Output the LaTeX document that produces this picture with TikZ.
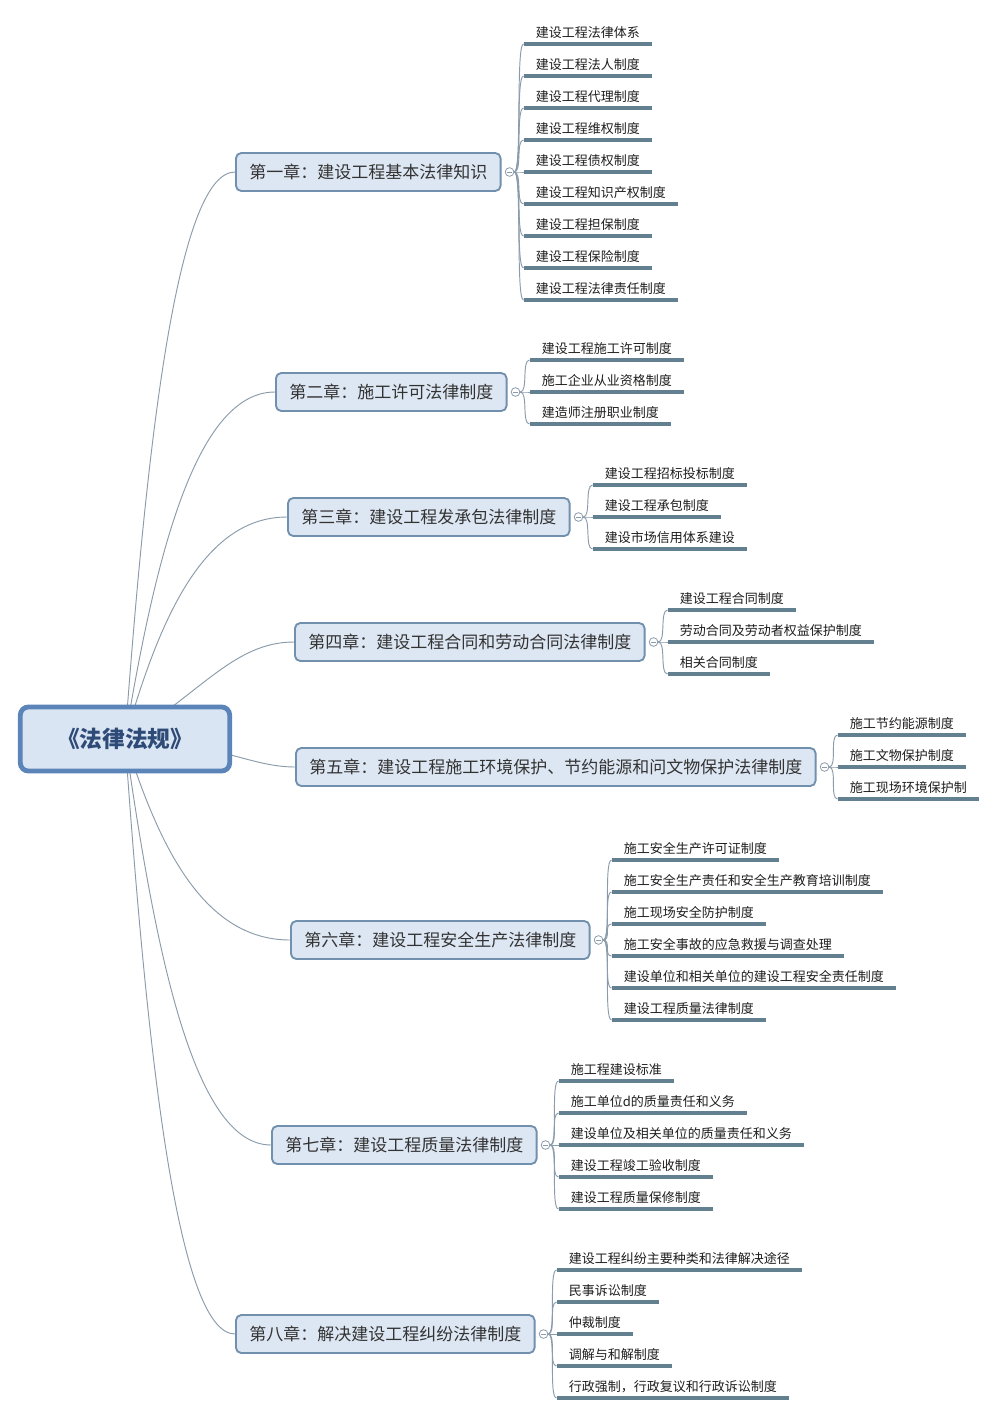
\documentclass[tikz,border=0pt]{standalone}
\usepackage{fontspec}
\setmainfont{Noto Sans CJK SC}
\usepackage{tikz}
\usetikzlibrary{calc}
\usepackage{xcolor}

\definecolor{rootfill}{HTML}{DAE5F3}
\definecolor{rootline}{HTML}{5B84B8}
\definecolor{roottext}{HTML}{2E4B78}
\definecolor{boxfill}{HTML}{DDE7F3}
\definecolor{boxline}{HTML}{7090AE}
\definecolor{chaptext}{HTML}{333333}
\definecolor{leaftext}{HTML}{1E1E1E}
\definecolor{linkcol}{HTML}{8A9BAA}
\definecolor{ulcol}{HTML}{62808F}

\pgfdeclarelayer{background}
\pgfsetlayers{background,main}

\begin{document}
\begin{tikzpicture}[
  x=0.75pt, y=-0.75pt,
  root/.style={rounded corners=6pt, draw=rootline, line width=3.6pt, fill=rootfill, minimum width=157pt, minimum height=48pt, font=\fontsize{17}{19}\selectfont\bfseries, text=roottext},
  chapter/.style={anchor=west, rounded corners=4pt, draw=boxline, line width=1.4pt, fill=boxfill, inner xsep=10pt, minimum height=28.5pt, font=\fontsize{12.75}{14}\selectfont, text=chaptext},
  marker/.style={circle, draw=linkcol, fill=white, line width=0.6pt, minimum size=6.5pt, inner sep=0pt, path picture={\draw[linkcol, line width=0.5pt] ([xshift=-2pt]path picture bounding box.center) -- ([xshift=2pt]path picture bounding box.center);}},
  uline/.style={draw=ulcol, line width=2.8pt},
  leaf/.style={anchor=south west, inner xsep=9pt, inner ysep=3pt, text height=8pt, text depth=2pt, font=\fontsize{9.75}{11}\selectfont, text=leaftext, append after command={(\tikzlastnode.south west) edge[uline] (\tikzlastnode.south east)}},
  branch/.style={draw=linkcol, line width=0.7pt}
]
  \useasboundingbox (0,0) rectangle (998,1416);

  % centre
  \node[root] (root) at (125,739) {《法律法规》};

  % chapitres
  \node[chapter] (ch1) at (235,172) {第一章：建设工程基本法律知识};
  \node[chapter] (ch2) at (275,392) {第二章：施工许可法律制度};
  \node[chapter] (ch3) at (287,517) {第三章：建设工程发承包法律制度};
  \node[chapter] (ch4) at (294,642) {第四章：建设工程合同和劳动合同法律制度};
  \node[chapter] (ch5) at (295,767) {第五章：建设工程施工环境保护、节约能源和问文物保护法律制度};
  \node[chapter] (ch6) at (290,940) {第六章：建设工程安全生产法律制度};
  \node[chapter] (ch7) at (271,1145) {第七章：建设工程质量法律制度};
  \node[chapter] (ch8) at (235,1334) {第八章：解决建设工程纠纷法律制度};

  % marqueurs
  \foreach \c in {1,...,8}
    \node[marker] (m\c) at ($(ch\c.east)+(8,0)$) {};

  % Chapitre 1
  \foreach \t [count=\i] in {建设工程法律体系, 建设工程法人制度, 建设工程代理制度, 建设工程维权制度, 建设工程债权制度, 建设工程知识产权制度, 建设工程担保制度, 建设工程保险制度, 建设工程法律责任制度} {
    \node[leaf] (c1l\i) at ($(m1)+(14,{32*(\i-5)})$) {\t};
    \draw[branch] (m1.east) .. controls +(8,0) and +(-8,0) .. (c1l\i.south west);
  }
  % Chapitre 2
  \foreach \t [count=\i] in {建设工程施工许可制度, 施工企业从业资格制度, 建造师注册职业制度} {
    \node[leaf] (c2l\i) at ($(m2)+(14,{32*(\i-2)})$) {\t};
    \draw[branch] (m2.east) .. controls +(8,0) and +(-8,0) .. (c2l\i.south west);
  }
  % Chapitre 3
  \foreach \t [count=\i] in {建设工程招标投标制度, 建设工程承包制度, 建设市场信用体系建设} {
    \node[leaf] (c3l\i) at ($(m3)+(14,{32*(\i-2)})$) {\t};
    \draw[branch] (m3.east) .. controls +(8,0) and +(-8,0) .. (c3l\i.south west);
  }
  % Chapitre 4
  \foreach \t [count=\i] in {建设工程合同制度, 劳动合同及劳动者权益保护制度, 相关合同制度} {
    \node[leaf] (c4l\i) at ($(m4)+(14,{32*(\i-2)})$) {\t};
    \draw[branch] (m4.east) .. controls +(8,0) and +(-8,0) .. (c4l\i.south west);
  }
  % Chapitre 5
  \foreach \t [count=\i] in {施工节约能源制度, 施工文物保护制度, 施工现场环境保护制} {
    \node[leaf] (c5l\i) at ($(m5)+(13,{32*(\i-2)})$) {\t};
    \draw[branch] (m5.east) .. controls +(8,0) and +(-8,0) .. (c5l\i.south west);
  }
  % Chapitre 6
  \foreach \t [count=\i] in {施工安全生产许可证制度, 施工安全生产责任和安全生产教育培训制度, 施工现场安全防护制度, 施工安全事故的应急救援与调查处理, 建设单位和相关单位的建设工程安全责任制度, 建设工程质量法律制度} {
    \node[leaf] (c6l\i) at ($(m6)+(13,{32*(\i-3.5)})$) {\t};
    \draw[branch] (m6.east) .. controls +(8,0) and +(-8,0) .. (c6l\i.south west);
  }
  % Chapitre 7
  \foreach \t [count=\i] in {施工程建设标准, 施工单位d的质量责任和义务, 建设单位及相关单位的质量责任和义务, 建设工程竣工验收制度, 建设工程质量保修制度} {
    \node[leaf] (c7l\i) at ($(m7)+(13,{32*(\i-3)})$) {\t};
    \draw[branch] (m7.east) .. controls +(8,0) and +(-8,0) .. (c7l\i.south west);
  }
  % Chapitre 8
  \foreach \t [count=\i] in {建设工程纠纷主要种类和法律解决途径, 民事诉讼制度, 仲裁制度, 调解与和解制度, 行政强制，行政复议和行政诉讼制度} {
    \node[leaf] (c8l\i) at ($(m8)+(13,{32*(\i-3)})$) {\t};
    \draw[branch] (m8.east) .. controls +(8,0) and +(-8,0) .. (c8l\i.south west);
  }

  % liens centre -> chapitres
  \begin{pgfonlayer}{background}
    \fill[white] (0,0) rectangle (998,1416);
    \draw[branch] (root.center) .. controls +(21,-284) and +(-59,0) .. (ch1.west);
    \draw[branch] (root.center) .. controls +(29,-174) and +(-81,0) .. (ch2.west);
    \draw[branch] (root.center) .. controls +(32,-111) and +(-87,0) .. (ch3.west);
    \draw[branch] (root.center) .. controls +(75,-45) and +(-60,0) .. (ch4.west);
    \draw[branch] (root.center) .. controls +(92,3) and +(-45,0) .. (ch5.west);
    \draw[branch] (root.center) .. controls +(32,101) and +(-89,0) .. (ch6.west);
    \draw[branch] (root.center) .. controls +(29,203) and +(-79,0) .. (ch7.west);
    \draw[branch] (root.center) .. controls +(21,298) and +(-59,0) .. (ch8.west);
  \end{pgfonlayer}

\end{tikzpicture}
\end{document}
